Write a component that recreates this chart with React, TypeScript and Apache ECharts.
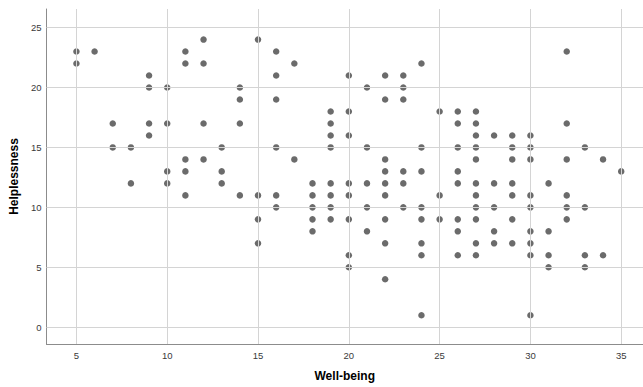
import React, { useEffect, useRef } from "react";
import * as echarts from "echarts";

const points: [number, number][] = [
  [5, 23], [5, 22], [6, 23], [11, 23], [12, 24], [11, 22], [12, 22], [9, 21], [9, 20], [10, 20],
  [14, 20], [14, 19], [7, 17], [9, 17], [10, 17], [12, 17], [14, 17], [9, 16], [7, 15], [8, 15],
  [13, 15], [11, 14], [12, 14], [10, 13], [11, 13], [13, 13], [8, 12], [10, 12], [13, 12], [11, 11],
  [14, 11],
  [15, 24], [16, 23], [17, 22], [16, 21], [20, 21], [22, 21], [23, 21], [24, 22], [21, 20], [23, 20],
  [16, 19], [22, 19], [23, 19], [19, 18], [20, 18], [19, 17], [19, 16], [20, 16], [16, 15], [19, 15],
  [21, 15], [24, 15], [17, 14], [22, 14], [22, 13], [23, 13], [24, 13],
  [18, 12], [19, 12], [20, 12], [21, 12], [22, 12], [23, 12], [15, 11], [16, 11], [18, 11], [19, 11],
  [20, 11], [22, 11], [16, 10], [18, 10], [19, 10], [21, 10], [23, 10], [24, 10], [15, 9], [18, 9],
  [19, 9], [20, 9], [22, 9], [24, 9], [18, 8], [21, 8], [15, 7], [22, 7], [24, 7], [20, 6],
  [24, 6], [20, 5], [22, 4], [24, 1],
  [32, 23], [25, 18], [26, 18], [27, 18], [26, 17], [27, 17], [32, 17], [27, 16], [28, 16], [29, 16],
  [30, 16], [26, 15], [27, 15], [29, 15], [30, 15], [33, 15], [27, 14], [29, 14], [30, 14], [32, 14],
  [34, 14], [26, 13], [35, 13],
  [26, 12], [27, 12], [28, 12], [29, 12], [31, 12], [25, 11], [27, 11], [29, 11], [30, 11], [32, 11],
  [27, 10], [28, 10], [30, 10], [32, 10], [33, 10], [25, 9], [26, 9], [27, 9], [29, 9], [32, 9],
  [26, 8], [28, 8], [30, 8], [31, 8], [27, 7], [28, 7], [29, 7], [30, 7], [26, 6], [27, 6],
  [30, 6], [31, 6], [33, 6], [34, 6], [31, 5], [33, 5], [30, 1],
];

const wellBeing: number[] = points.map((p) => p[0]);
const helplessness: number[] = points.map((p) => p[1]);

const xTicks = [5, 10, 15, 20, 25, 30, 35];
const yTicks = [0, 5, 10, 15, 20, 25];

const FONT = "Liberation Sans, Arial, sans-serif";

export default function App() {
  const ref = useRef<HTMLDivElement>(null);
  useEffect(() => {
    if (!ref.current) return;
    const chart = echarts.init(ref.current, undefined, { renderer: "svg" });
    const data = wellBeing.map((x, i) => [x, helplessness[i]]);
    chart.setOption({
      animation: false,
      backgroundColor: "#ffffff",
      grid: { left: 45, top: 9, right: 0, bottom: 40, containLabel: false },
      xAxis: {
        type: "value",
        min: 3.35,
        max: 36.2,
        name: "Well-being",
        nameLocation: "middle",
        nameGap: 26,
        nameTextStyle: { fontFamily: FONT, fontSize: 12, fontWeight: "bold", color: "#000" },
        axisLine: { show: true, onZero: false, lineStyle: { color: "#8c8c8c", width: 1 } },
        axisTick: { show: false },
        splitLine: { show: false },
        axisLabel: {
          customValues: xTicks,
          fontFamily: FONT,
          fontSize: 9.5,
          color: "#3a3a3a",
          margin: 6,
        },
      },
      yAxis: {
        type: "value",
        min: -1.4,
        max: 26.55,
        name: "Helplessness",
        nameLocation: "middle",
        nameRotate: 90,
        nameGap: 24,
        nameTextStyle: { fontFamily: FONT, fontSize: 12, fontWeight: "bold", color: "#000" },
        axisLine: { show: true, onZero: false, lineStyle: { color: "#8c8c8c", width: 1 } },
        axisTick: { show: false },
        splitLine: { show: false },
        axisLabel: {
          customValues: yTicks,
          fontFamily: FONT,
          fontSize: 9.5,
          color: "#3a3a3a",
          margin: 5,
        },
      },
      series: [
        {
          type: "scatter",
          data: [],
          z: 1,
          silent: true,
          markLine: {
            silent: true,
            symbol: ["none", "none"],
            label: { show: false },
            lineStyle: { color: "#d4d4d4", type: "solid", width: 1 },
            data: [
              ...xTicks.map((v) => ({ xAxis: v })),
              ...yTicks.map((v) => ({ yAxis: v })),
            ],
          },
        },
        {
          type: "scatter",
          z: 3,
          data,
          symbol: "circle",
          symbolSize: 6.5,
          itemStyle: { color: "#6b6b6b", opacity: 1 },
        },
      ],
    });
    return () => chart.dispose();
  }, []);
  return (
    <div
      ref={ref}
      style={{ position: "absolute", left: 0, top: 0, width: 643, height: 387, background: "#fff" }}
    />
  );
}
